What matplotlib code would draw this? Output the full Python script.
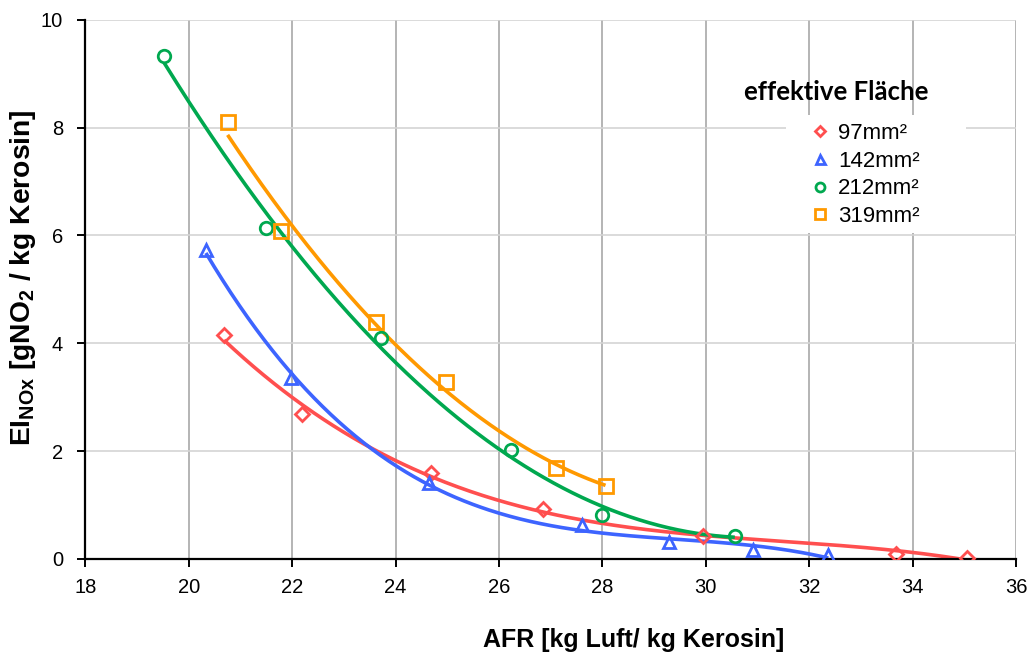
import numpy as np
import matplotlib
matplotlib.use("Agg")
import matplotlib.pyplot as plt
from matplotlib.patches import Rectangle

# Measured emission index versus air/fuel ratio for four effective areas
afr_97 = [20.68, 22.19, 24.68, 26.85, 29.94, 33.67, 35.06]
ei_97 = [4.15, 2.69, 1.59, 0.92, 0.42, 0.09, 0.02]

afr_142 = [20.33, 21.97, 24.64, 27.60, 29.29, 30.91, 32.37]
ei_142 = [5.73, 3.35, 1.41, 0.62, 0.32, 0.16, 0.07]

afr_212 = [19.52, 21.49, 23.71, 26.23, 28.00, 30.56]
ei_212 = [9.33, 6.13, 4.09, 2.02, 0.81, 0.43]

afr_319 = [20.75, 21.78, 23.62, 24.97, 27.11, 28.06]
ei_319 = [8.10, 6.08, 4.39, 3.29, 1.69, 1.35]

labels = ["97mm²", "142mm²", "212mm²", "319mm²"]
x_ticks = [18, 20, 22, 24, 26, 28, 30, 32, 34, 36]
y_ticks = [0, 2, 4, 6, 8, 10]

series = [
    (afr_97, ei_97, "#FF4F4F", "D", 7, 3),
    (afr_142, ei_142, "#3D64FF", "^", 9, 3),
    (afr_212, ei_212, "#00A84F", "o", 9, 2),
    (afr_319, ei_319, "#FF9900", "s", 9.5, 2),
]

fig = plt.figure(figsize=(10.32, 6.55), dpi=100)
ax = fig.add_axes([0.0828, 0.1469, 0.9017, 0.8226])
ax.set_xlim(18, 36)
ax.set_ylim(0, 10)
ax.set_xticks(x_ticks)
ax.set_yticks(y_ticks)

ax.set_axisbelow(True)
ax.xaxis.grid(True, color="#a0a0a0", linewidth=1.1, zorder=0)
ax.yaxis.grid(True, color="#d4d4d4", linewidth=1.2, zorder=0)

for s in ["top", "right"]:
    ax.spines[s].set_visible(False)
for s in ["left", "bottom"]:
    ax.spines[s].set_linewidth(1.6)
    ax.spines[s].set_color("black")
    ax.spines[s].set_zorder(3)

ax.tick_params(axis="both", direction="out", length=6, width=1.4,
               labelsize=14.5, colors="black")
ax.tick_params(axis="x", pad=8)
ax.tick_params(axis="y", pad=10)
for lab in ax.get_xticklabels() + ax.get_yticklabels():
    lab.set_fontfamily("Liberation Sans")

# polynomial trend line through each series, then the measured points
for x, y, col, mk, ms, deg in series:
    coef = np.polyfit(x, y, deg)
    xf = np.linspace(min(x), max(x), 300)
    ax.plot(xf, np.polyval(coef, xf), color=col, linewidth=2.6, zorder=2,
            solid_capstyle="butt")
    ax.plot(x, y, linestyle="none", marker=mk, markersize=ms,
            markerfacecolor="none", markeredgecolor=col,
            markeredgewidth=2.0, zorder=4)

# white box behind the legend entries
fig.patches.append(Rectangle((786 / 1032, 1 - 233 / 655), 180 / 1032, 118 / 655,
                             transform=fig.transFigure, facecolor="white",
                             edgecolor="none", zorder=1))

leg_handles = []
for x, y, col, mk, ms, deg in series:
    h, = ax.plot([], [], linestyle="none", marker=mk, markersize=ms * 0.72,
                 markerfacecolor="none", markeredgecolor=col,
                 markeredgewidth=2.0)
    leg_handles.append(h)

leg = fig.legend(leg_handles, labels, loc="upper left",
                 bbox_to_anchor=(809 / 1032, 1 - 123 / 655),
                 frameon=False, handlelength=1.0, handletextpad=0.3,
                 labelspacing=0.3, borderpad=0.0, borderaxespad=0.0,
                 prop={"family": "Liberation Sans", "size": 16})
leg.set_zorder(5)

fig.text(836 / 1032, 1 - 92 / 655, "effektive Fläche", ha="center", va="center",
         fontsize=18.5, fontweight="bold", family="Lato", zorder=5)

fig.text(634 / 1032, 1 - 640 / 655, "AFR [kg Luft/ kg Kerosin]", ha="center",
         va="center", fontsize=18, fontweight="bold", family="Liberation Sans")
fig.text(23 / 1032, 1 - 278 / 655,
         r"EI$_{\mathregular{NOx}}$ [gNO$_{\mathregular{2}}$ / kg Kerosin]",
         ha="center", va="center", rotation=90, fontsize=20.3,
         fontweight="bold", family="Liberation Sans")

fig.savefig("out.png", dpi=100, facecolor="white")
